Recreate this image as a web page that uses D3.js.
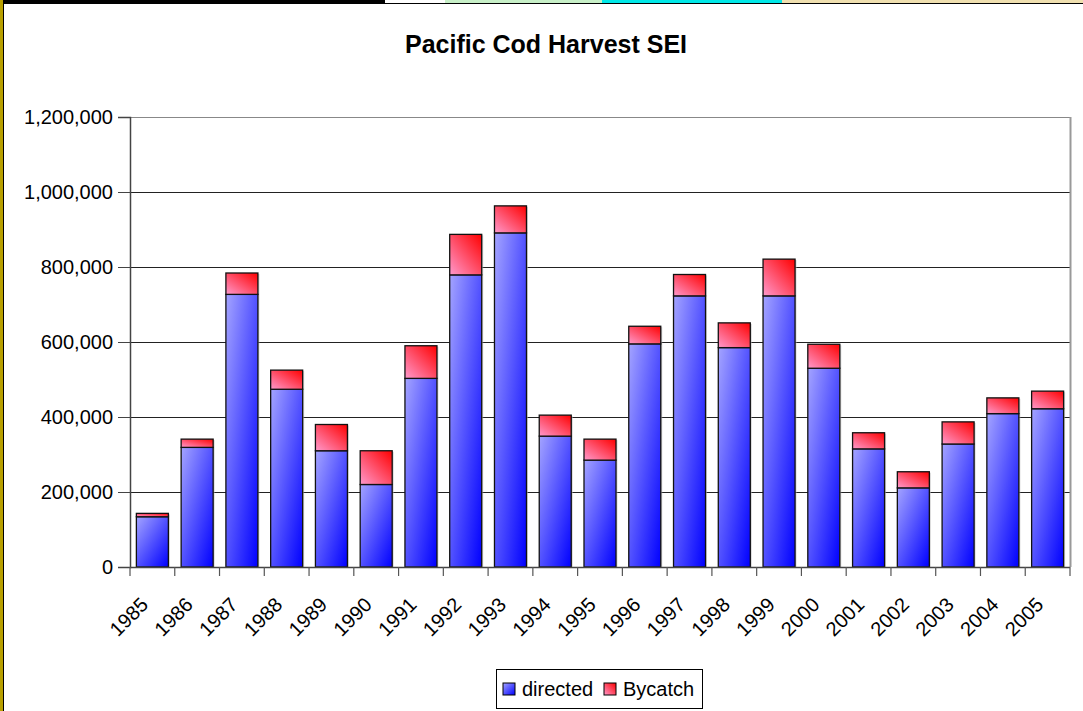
<!DOCTYPE html>
<html>
<head>
<meta charset="utf-8">
<script src="https://cdnjs.cloudflare.com/ajax/libs/d3/7.8.5/d3.min.js"></script>
<style>
  body { margin: 0; background: #fff; }
  text { font-family: "Liberation Sans", Arial, sans-serif; fill: #000; }
</style>
</head>
<body>
<div id="chart"></div>
<script>
// values
var years = ["1985","1986","1987","1988","1989","1990","1991","1992","1993","1994","1995",
             "1996","1997","1998","1999","2000","2001","2002","2003","2004","2005"];
var directed = [134000, 319000, 727000, 474000, 310000, 220000, 503000, 779000, 891000, 349000, 285000,
                595000, 723000, 585000, 723000, 530000, 315000, 211000, 328000, 409000, 422000];
var bycatch  = [9000, 22000, 57000, 51000, 70000, 90000, 87000, 108000, 72000, 56000, 56000,
                47000, 57000, 66000, 98000, 64000, 43000, 43000, 59000, 42000, 47000];
var yTicks = [0, 200000, 400000, 600000, 800000, 1000000, 1200000];
var seriesNames = ["directed", "Bycatch"];

var W = 1083, H = 711;
var margin = { top: 117, right: 13, bottom: 144, left: 130 },
    width = W - margin.left - margin.right,
    height = H - margin.top - margin.bottom;

var svg = d3.select("#chart").append("svg")
    .attr("width", W).attr("height", H);

// slide edges behind the chart
svg.append("rect").attr("x", 0).attr("y", 0).attr("width", 385).attr("height", 3).attr("fill", "#000");
svg.append("rect").attr("x", 445).attr("y", 0).attr("width", 157).attr("height", 3).attr("fill", "#c8f0c8");
svg.append("rect").attr("x", 602).attr("y", 0).attr("width", 180).attr("height", 3).attr("fill", "#00e8e8");
svg.append("rect").attr("x", 782).attr("y", 0).attr("width", 301).attr("height", 3).attr("fill", "#f0e0b0");
svg.append("rect").attr("x", 0).attr("y", 3).attr("width", W).attr("height", 1).attr("fill", "#000");
svg.append("rect").attr("x", 0).attr("y", 0).attr("width", 3).attr("height", H).attr("fill", "#b8a000");
svg.append("rect").attr("x", 3).attr("y", 3).attr("width", 1).attr("height", H).attr("fill", "#000");

var defs = svg.append("defs");
var g1 = defs.append("linearGradient").attr("id", "gDir")
    .attr("x1", 0).attr("y1", 0).attr("x2", 1).attr("y2", 1);
g1.append("stop").attr("offset", 0).attr("stop-color", "#a4a4ff");
g1.append("stop").attr("offset", 1).attr("stop-color", "#0000ff");
var g2 = defs.append("linearGradient").attr("id", "gBy")
    .attr("x1", 0).attr("y1", 1).attr("x2", 1).attr("y2", 0);
g2.append("stop").attr("offset", 0).attr("stop-color", "#ff99cc");
g2.append("stop").attr("offset", 1).attr("stop-color", "#ff0000");

// title
svg.append("text").attr("x", 546).attr("y", 53)
    .attr("text-anchor", "middle")
    .style("font-size", "25px").style("font-weight", "bold")
    .text("Pacific Cod Harvest SEI");

var g = svg.append("g").attr("transform", "translate(" + margin.left + "," + margin.top + ")");

var x = d3.scaleBand().domain(years).range([0, width]).paddingInner(0.285).paddingOuter(0.1425);
var y = d3.scaleLinear().domain([0, 1200000]).range([height, 0]);

// gridlines
g.selectAll("line.grid").data(yTicks.slice(1)).enter().append("line")
    .attr("class", "grid")
    .attr("x1", 0).attr("x2", width)
    .attr("y1", function (d) { return Math.round(y(d)) + 0.5; })
    .attr("y2", function (d) { return Math.round(y(d)) + 0.5; })
    .attr("stroke", function (d) { return d === 1200000 ? "#888" : "#222"; })
    .attr("stroke-width", 1);

// right border
g.append("line").attr("x1", width + 0.5).attr("x2", width + 0.5)
    .attr("y1", 0).attr("y2", height).attr("stroke", "#999").attr("stroke-width", 2);

// stacked bars
var stackData = years.map(function (yr, i) {
    return { year: yr, directed: directed[i], bycatch: bycatch[i] };
});

var bars = g.selectAll("g.bar").data(stackData).enter().append("g").attr("class", "bar");

bars.append("rect")
    .attr("x", function (d) { return x(d.year) + 1.5; })
    .attr("y", function (d) { return y(d.directed + d.bycatch) + 1; })
    .attr("width", x.bandwidth())
    .attr("height", function (d) { return height - y(d.directed + d.bycatch); })
    .attr("fill", "#bbb").attr("opacity", 0.6);

bars.append("rect")
    .attr("x", function (d) { return x(d.year); })
    .attr("y", function (d) { return y(d.directed); })
    .attr("width", x.bandwidth())
    .attr("height", function (d) { return height - y(d.directed); })
    .attr("fill", "url(#gDir)").attr("stroke", "#111").attr("stroke-width", 1.3);

bars.append("rect")
    .attr("x", function (d) { return x(d.year); })
    .attr("y", function (d) { return y(d.directed + d.bycatch); })
    .attr("width", x.bandwidth())
    .attr("height", function (d) { return y(d.directed) - y(d.directed + d.bycatch); })
    .attr("fill", "url(#gBy)").attr("stroke", "#111").attr("stroke-width", 1.3);

// y axis
var yAxis = g.append("g")
    .call(d3.axisLeft(y).tickValues(yTicks).tickSize(12).tickPadding(5)
        .tickFormat(d3.format(",")));
yAxis.select(".domain").attr("stroke", "#444").attr("stroke-width", 1.5);
yAxis.selectAll(".tick line").attr("stroke", "#444");
yAxis.selectAll(".tick text").style("font-size", "20px").attr("fill", "#000")
    .style("font-family", "'Liberation Sans', Arial, sans-serif");

// x axis (ticks at category boundaries)
var xb = g.append("g").attr("transform", "translate(0," + height + ")");
xb.append("line").attr("x1", 0).attr("x2", width).attr("y1", 0.5).attr("y2", 0.5)
    .attr("stroke", "#444").attr("stroke-width", 1.5);
var step = x.step();
xb.selectAll("line.tk").data(d3.range(years.length + 1)).enter().append("line")
    .attr("class", "tk")
    .attr("x1", function (i) { return i * step; }).attr("x2", function (i) { return i * step; })
    .attr("y1", 0).attr("y2", 9).attr("stroke", "#555").attr("stroke-width", 1.2);
xb.selectAll("text.lab").data(years).enter().append("text")
    .attr("class", "lab")
    .attr("text-anchor", "end")
    .style("font-size", "20px")
    .attr("transform", function (d) {
        return "translate(" + (x(d) + x.bandwidth() / 2 - 3) + ",39) rotate(-45)";
    })
    .text(function (d) { return d; });

// legend
var lg = svg.append("g").attr("transform", "translate(496,669)");
lg.append("rect").attr("x", 0.5).attr("y", 0.5).attr("width", 206).attr("height", 39)
    .attr("fill", "#fff").attr("stroke", "#000").attr("stroke-width", 1);
var fills = ["url(#gDir)", "url(#gBy)"];
var lx = [7, 108];
seriesNames.forEach(function (name, i) {
    lg.append("rect").attr("x", lx[i]).attr("y", 14).attr("width", 12).attr("height", 12)
        .attr("fill", fills[i]).attr("stroke", "#000").attr("stroke-width", 1);
    lg.append("text").attr("x", lx[i] + 19).attr("y", 27)
        .style("font-size", "20px").text(name);
});
</script>
</body>
</html>
